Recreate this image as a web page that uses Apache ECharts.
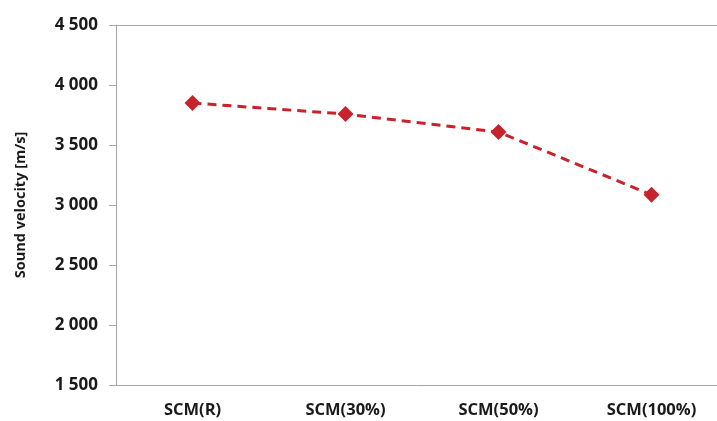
<!DOCTYPE html>
<html><head><meta charset="utf-8">
<script src="https://cdn.jsdelivr.net/npm/echarts@6/dist/echarts.min.js"></script>
<style>html,body{margin:0;padding:0;background:#fff}#c{width:717px;height:421px}</style>
</head><body><div id="c"></div>
<script>
const categories = ["SCM(R)", "SCM(30%)", "SCM(50%)", "SCM(100%)"];
const velocity = [3850, 3758, 3608, 3085];
const yTicks = [1500, 2000, 2500, 3000, 3500, 4000, 4500];

const chart = echarts.init(document.getElementById('c'));
const fmt = v => String(v).replace(/\B(?=(\d{3})+(?!\d))/g, ' ');
chart.setOption({
  animation: false,
  grid: { left: 116, top: 25, width: 612, height: 360, outerBoundsMode: 'none', containLabel: false },
  xAxis: {
    type: 'category', data: categories,
    axisLine: { lineStyle: { color: '#a6a6a6', width: 1 } },
    axisTick: { show: false },
    axisLabel: { margin: 17, fontFamily: 'Open Sans', fontWeight: 'bold', fontSize: 16.5, color: '#1a1a1a' }
  },
  yAxis: {
    type: 'value', min: yTicks[0], max: yTicks[yTicks.length - 1], interval: 500,
    name: 'Sound velocity [m/s]', nameLocation: 'middle', nameGap: 88,
    nameTextStyle: { fontFamily: 'Open Sans', fontWeight: 'bold', fontSize: 14.5, color: '#1a1a1a' },
    axisLine: { show: true, lineStyle: { color: '#a6a6a6' } },
    axisTick: { show: true, inside: false, length: 7, lineStyle: { color: '#a6a6a6' } },
    splitLine: { show: true, lineStyle: { color: ['transparent','transparent','transparent','transparent','transparent','transparent','#a6a6a6'] } },
    axisLabel: { margin: 18, formatter: fmt, fontFamily: 'Open Sans', fontWeight: 'bold', fontSize: 17, color: '#1a1a1a' }
  },
  series: [{
    type: 'line', data: velocity,
    symbol: 'diamond', symbolSize: 16,
    itemStyle: { color: '#c8232b' },
    lineStyle: { color: '#c8232b', width: 3, type: [9, 6] }
  }]
});
</script></body></html>
